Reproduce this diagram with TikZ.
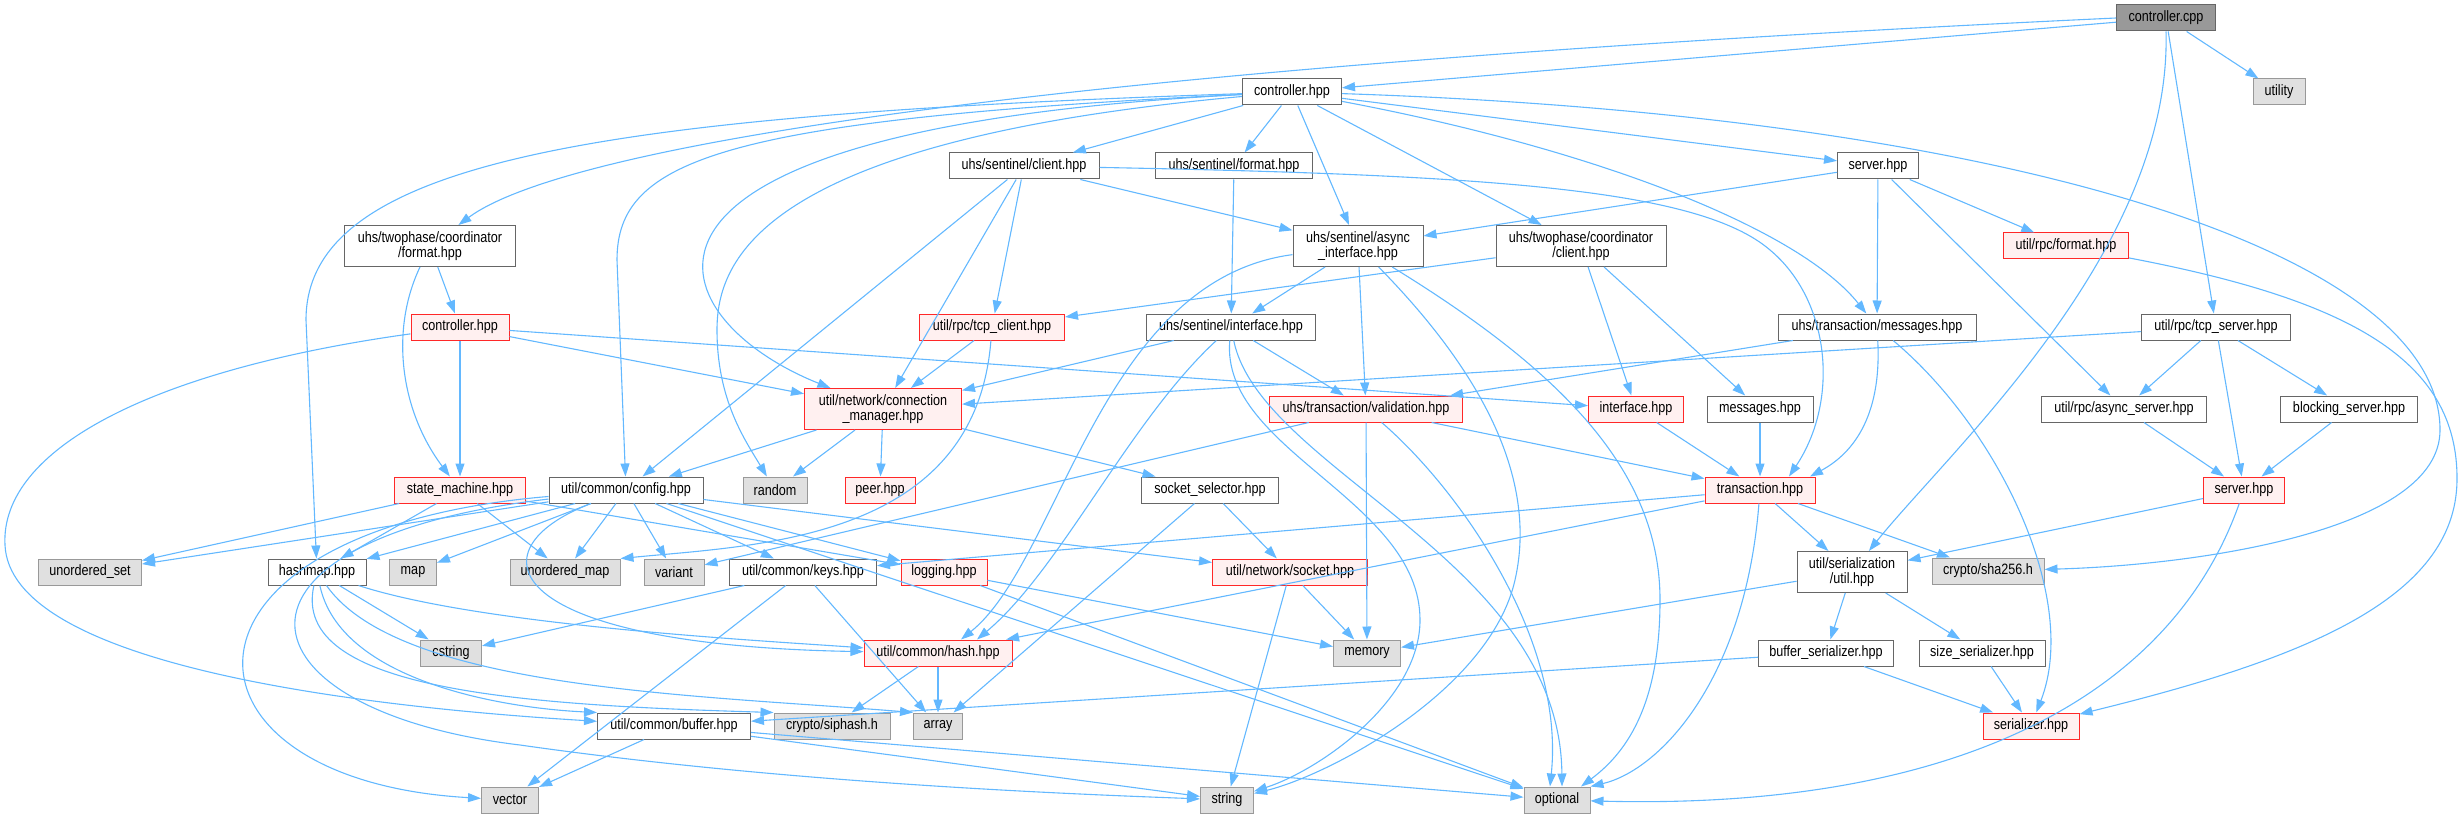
\documentclass[tikz,border=0pt]{standalone}
\usepackage{fontspec}
\setmainfont{Liberation Sans}[FakeStretch=0.84]
\usepackage{tikz}
\usetikzlibrary{arrows.meta}
\definecolor{edgeblue}{RGB}{99,184,255}
\definecolor{boxgrey}{RGB}{102,102,102}
\definecolor{sysfill}{RGB}{224,224,224}
\definecolor{sysline}{RGB}{153,153,153}
\definecolor{rootfill}{RGB}{153,153,153}
\definecolor{cutfill}{RGB}{255,240,240}
\definecolor{cutline}{RGB}{255,40,40}

\begin{document}
\begin{tikzpicture}[x=1pt, y=-1pt,
    font=\fontsize{15}{15.5}\selectfont,
    box/.style={draw, rectangle, line width=1pt, inner sep=2pt, minimum height=26pt, align=center},
    file/.style={box, draw=boxgrey, fill=white},
    sysfile/.style={box, draw=sysline, fill=sysfill},
    cutfile/.style={box, draw=cutline, fill=cutfill},
    rootfile/.style={box, draw=boxgrey, fill=rootfill},
    dep/.style={draw=edgeblue, line width=1.1pt, -{Triangle[length=13pt, width=9pt]}}]
        \useasboundingbox (0,0) rectangle (2459,818);
        \node[rootfile, minimum width=99pt] (cpp) at (2166,18) {controller.cpp};
        \foreach \n/\x/\y/\w/\t in {
            ctrlhpp/1292/92/99/{controller.hpp},
            sclient/1024/166/150/{uhs/sentinel/client.hpp},
            sformat/1234/166/157/{uhs/sentinel/format.hpp},
            srvhpp/1878/166/81/{server.hpp},
            sinterface/1231/327/169/{uhs/sentinel/interface.hpp},
            txmsgs/1877/327/198/{uhs/transaction/messages.hpp},
            tcpserver/2216/327/149/{util/rpc/tcp\_server.hpp},
            msgs/1760/409/106/{messages.hpp},
            asyncsrv/2124/409/165/{util/rpc/async\_server.hpp},
            blocksrv/2349/409/137/{blocking\_server.hpp},
            config/626/490/154/{util/common/config.hpp},
            sockselect/1210/490/137/{socket\_selector.hpp},
            hashmap/317/572/98/{hashmap.hpp},
            keys/803/572/147/{util/common/keys.hpp},
            bufser/1826/653/135/{buffer\_serializer.hpp},
            sizeser/1982/653/126/{size\_serializer.hpp},
            buffer/674/726/153/{util/common/buffer.hpp}} {
          \node[file, minimum width=\w pt] (\n) at (\x,\y) {\t};
        }
        \node[file, minimum width=171pt, minimum height=41pt] (tpfmt) at (430,246) {uhs/twophase/coordinator\\/format.hpp};
        \node[file, minimum width=130pt, minimum height=41pt] (async) at (1358,246) {uhs/sentinel/async\\\_interface.hpp};
        \node[file, minimum width=170pt, minimum height=41pt] (tpclient) at (1581,246) {uhs/twophase/coordinator\\/client.hpp};
        \node[file, minimum width=110pt, minimum height=41pt] (serutil) at (1852,572) {util/serialization\\/util.hpp};
        \node[cutfile, minimum width=157pt, minimum height=41pt] (connmgr) at (883,409) {util/network/connection\\\_manager.hpp};
        \foreach \n/\x/\y/\w/\t in {
            utility/2279/92/52/{utility},
            random/775/490/64/{random},
            uset/90/572/103/{unordered\_set},
            map/413/572/47/{map},
            umap/565/572/110/{unordered\_map},
            variant/674/572/60/{variant},
            sha/1988/571/112/{crypto/sha256.h},
            cstring/451/653/61/{cstring},
            memory/1367/653/67/{memory},
            siphash/832/726/116/{crypto/siphash.h},
            array/938/726/49/{array},
            vector/510/800/57/{vector},
            string/1227/800/53/{string},
            optional/1557/800/66/{optional}} {
          \node[sysfile, minimum width=\w pt] (\n) at (\x,\y) {\t};
        }
        \foreach \n/\x/\y/\w/\t in {
            rpcformat/2066/246/125/{util/rpc/format.hpp},
            ctrlred/460/327/98/{controller.hpp},
            tcpclient/992/327/145/{util/rpc/tcp\_client.hpp},
            validation/1366/409/193/{uhs/transaction/validation.hpp},
            iface/1636/409/95/{interface.hpp},
            statem/460/490/131/{state\_machine.hpp},
            peer/880/490/70/{peer.hpp},
            transaction/1760/490/110/{transaction.hpp},
            srvred/2244/490/81/{server.hpp},
            logging/944/572/86/{logging.hpp},
            socket/1290/572/155/{util/network/socket.hpp},
            hash/938/653/148/{util/common/hash.hpp},
            serializer/2031/726/96/{serializer.hpp}} {
          \node[cutfile, minimum width=\w pt] (\n) at (\x,\y) {\t};
        }
        \foreach \a/\b in {cpp/ctrlhpp, cpp/utility, cpp/tcpserver,
            ctrlhpp/sclient, ctrlhpp/sformat, ctrlhpp/async, ctrlhpp/tpclient, ctrlhpp/srvhpp,
            sclient/async, sclient/tcpclient, sclient/connmgr, sclient/config,
            sformat/sinterface, srvhpp/async, srvhpp/txmsgs, srvhpp/rpcformat, srvhpp/asyncsrv,
            tpfmt/ctrlred, async/sinterface, async/validation,
            tpclient/tcpclient, tpclient/iface, tpclient/msgs, tcpclient/connmgr,
            sinterface/connmgr, sinterface/validation,
            validation/variant, validation/memory, validation/transaction,
            iface/transaction, msgs/transaction, txmsgs/validation,
            tcpserver/connmgr, tcpserver/asyncsrv, tcpserver/blocksrv, tcpserver/srvred,
            asyncsrv/srvred, blocksrv/srvred,
            connmgr/config, connmgr/random, connmgr/peer, connmgr/sockselect,
            ctrlred/statem, ctrlred/connmgr, ctrlred/iface,
            statem/uset, statem/hashmap, statem/umap, statem/logging,
            config/uset, config/hashmap, config/map, config/umap, config/variant,
            config/keys, config/logging, config/optional, config/socket,
            hashmap/cstring, keys/cstring, keys/vector, keys/array,
            logging/memory, logging/optional, socket/memory, socket/string,
            sockselect/socket, sockselect/array, hash/siphash, hash/array,
            transaction/serutil, transaction/sha, transaction/keys, transaction/hash,
            serutil/memory, serutil/bufser, serutil/sizeser,
            bufser/buffer, bufser/serializer, sizeser/serializer,
            buffer/vector, buffer/string, buffer/optional, srvred/serutil} {
          \draw[dep] (\a) -- (\b);
        }
        % long spline edges
        \draw[dep] (cpp.west) .. controls (1000,70) and (560,150) .. (tpfmt);
        \draw[dep] (cpp.south) .. controls (2172,250) and (1950,450) .. (serutil);
        \draw[dep] (ctrlhpp) .. controls (1600,150) and (1800,230) .. (txmsgs);
        \draw[dep] (ctrlhpp) .. controls (2000,115) and (2440,250) .. (2440,430)
                   .. controls (2440,530) and (2200,565) .. (sha);
        \draw[dep] (ctrlhpp) .. controls (600,115) and (306,160) .. (306,320) -- (hashmap);
        \draw[dep] (ctrlhpp) .. controls (720,120) and (617,160) .. (617,260) -- (config);
        \draw[dep] (ctrlhpp) .. controls (560,130) and (660,320) .. (connmgr);
        \draw[dep] (ctrlhpp) .. controls (760,140) and (717,260) .. (717,330)
                   .. controls (717,400) and (745,440) .. (random);
        \draw[dep] (sclient) .. controls (1500,175) and (1700,190) .. (1770,250)
                   .. controls (1830,300) and (1840,400) .. ([xshift=29pt]transaction.north);
        \draw[dep] (tpfmt) .. controls (390,330) and (400,410) .. (statem);
        \draw[dep] (async) .. controls (1100,280) and (1060,560) .. ([xshift=23pt]hash.north);
        \draw[dep] (sinterface) .. controls (1130,420) and (1060,570) .. ([xshift=39pt]hash.north);
        \draw[dep] (async) .. controls (1470,360) and (1540,470) .. (1515,580)
                   .. controls (1490,690) and (1330,775) .. (string);
        \draw[dep] (sinterface) .. controls (1220,450) and (1420,500) .. (1420,620)
                   .. controls (1420,700) and (1320,770) .. (string);
        \draw[dep] (async) .. controls (1560,370) and (1660,470) .. (1660,600)
                   .. controls (1660,700) and (1630,750) .. ([xshift=24pt]optional.north);
        \draw[dep] (sinterface) .. controls (1260,470) and (1560,560) .. ([xshift=5pt]optional.north);
        \draw[dep] (validation) .. controls (1460,490) and (1565,640) .. ([xshift=-7pt]optional.north);
        \draw[dep] (txmsgs) .. controls (1882,420) and (1850,455) .. ([xshift=50pt]transaction.north);
        \draw[dep] (txmsgs) .. controls (2000,430) and (2080,600) .. (serializer);
        \draw[dep] (rpcformat) .. controls (2350,300) and (2458,360) .. (2457,480)
                   .. controls (2456,600) and (2300,660) .. (serializer);
        \draw[dep] (tcpclient) .. controls (975,540) and (760,545) .. (umap.north east);
        \draw[dep] (config) .. controls (470,550) and (500,645) .. (hash);
        \draw[dep] (hashmap) .. controls (480,625) and (750,640) .. (hash);
        \draw[dep] (config) .. controls (150,530) and (160,780) .. (vector);
        \draw[dep] (config) .. controls (200,540) and (230,710) .. (520,745)
                   .. controls (800,785) and (1100,795) .. (string);
        \draw[dep] (hashmap) .. controls (290,690) and (520,705) .. (siphash.north west);
        \draw[dep] (hashmap) .. controls (340,680) and (500,708) .. (buffer.north west);
        \draw[dep] (hashmap) .. controls (400,690) and (700,695) .. (array.north west);
        \draw[dep] (ctrlred) .. controls (150,370) and (0,450) .. (5,545)
                   .. controls (10,660) and (330,705) .. (buffer);
        \draw[dep] (transaction) .. controls (1745,680) and (1660,770) .. (optional.north east);
        \draw[dep] (srvred) .. controls (2170,700) and (1950,810) .. (optional);
      \end{tikzpicture}
\end{document}
